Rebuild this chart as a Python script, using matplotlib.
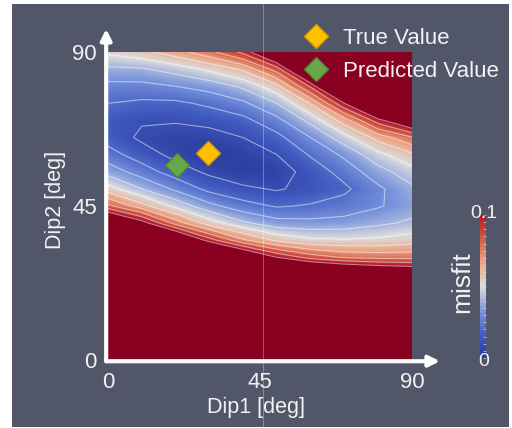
import numpy as np
import matplotlib as mpl
import matplotlib.pyplot as plt
from matplotlib.colors import LinearSegmentedColormap, Normalize
from matplotlib.lines import Line2D
from matplotlib.patches import Rectangle

mpl.use('Agg')
plt.rcParams['font.family'] = ['Liberation Sans', 'DejaVu Sans']

# grid of the misfit map (deg)
dip1 = [0, 10, 20, 30, 40, 50, 60, 70, 80, 90]
dip2 = [0, 5, 10, 15, 20, 25, 30, 35, 40, 45, 50, 55, 60, 65, 70, 75, 80, 85, 90]

# misfit values, one row per dip2 value
misfit = [
    [.3, .3, .3, .3, .3, .3, .3, .3, .3, .3],
    [.3, .3, .3, .3, .3, .3, .3, .3, .3, .3],
    [.3, .3, .3, .3, .3, .3, .3, .3, .3, .3],
    [.3, .3, .3, .3, .3, .3, .3, .3, .3, .3],
    [.3, .3, .3, .3, .3, .3, .3, .3, .3, .3],
    [.3, .3, .3, .3, .2, .16, .14, .132, .125, .12],
    [.3, .3, .2, .152, .124, .100, .086, .079, .077, .077],
    [.3, .160, .128, .095, .072, .058, .052, .051, .052, .055],
    [.131, .106, .076, .055, .042, .034, .033, .034, .038, .042],
    [.083, .064, .047, .033, .024, .019, .021, .024, .029, .035],
    [.054, .040, .028, .017, .012, .009, .013, .018, .028, .038],
    [.036, .025, .015, .008, .003, .005, .014, .024, .036, .046],
    [.024, .015, .007, .001, .004, .010, .021, .032, .047, .058],
    [.016, .008, .005, .006, .010, .017, .030, .046, .064, .079],
    [.015, .011, .011, .013, .017, .027, .043, .065, .096, .118],
    [.020, .018, .018, .022, .028, .040, .061, .100, .144, .2],
    [.027, .027, .030, .034, .042, .057, .092, .148, .2, .3],
    [.038, .039, .044, .052, .062, .085, .136, .2, .3, .3],
    [.052, .057, .066, .077, .093, .126, .2, .3, .3, .3],
]

true_value = [29.5, 60.5]
predicted_value = [20.5, 57.0]

W, H = 512, 428
bg = '#525669'
fg = '#f2f2f2'

cmap = LinearSegmentedColormap.from_list('cw', [
    (0.0, '#28399a'), (0.15, '#3f59bf'), (0.32, '#7894dc'),
    (0.5, '#dcdcdc'), (0.68, '#eba485'), (0.85, '#d25641'), (1.0, '#b0172b')])
cmap = cmap.with_extremes(over='#8a0021')

fig = plt.figure(figsize=(W / 100, H / 100), dpi=100)
fig.patch.set_facecolor('white')
fig.add_artist(Rectangle((12 / W, 1 / H), 497 / W, 423 / H, transform=fig.transFigure,
                         facecolor=bg, edgecolor='none', zorder=-10))

ax = fig.add_axes([108 / W, 1 - 360 / H, 304 / W, 308 / H])
ax.set_facecolor('none')
ax.contourf(dip1, dip2, misfit, levels=np.linspace(0, 0.1, 201), cmap=cmap, extend='max')
ax.contour(dip1, dip2, misfit, levels=np.arange(0.01, 0.1001, 0.01), colors='white',
           linewidths=0.8, alpha=0.5)

ax.plot(true_value[0], true_value[1], 'D', ms=12, mfc='#ffc000', mec='#d99a00', mew=1,
        label='True Value', clip_on=False)
ax.plot(predicted_value[0], predicted_value[1], 'D', ms=12, mfc='#68a84a', mec='#4d8a34', mew=1,
        label='Predicted Value', clip_on=False)

ax.set_xlim(0, 90)
ax.set_ylim(0, 90)
ax.set_xticks([0, 45, 90])
ax.set_yticks([0, 45, 90])
ax.tick_params(length=0, colors=fg, labelsize=16)
ax.tick_params(axis='x', pad=9)
ax.tick_params(axis='y', pad=8)
for s in ax.spines.values():
    s.set_visible(False)

# axis arrows
ax.annotate('', xy=(-0.006, 1.075), xytext=(-0.006, -0.004), xycoords='axes fraction',
            arrowprops=dict(arrowstyle='-|>', color='white', lw=3, mutation_scale=16,
                            shrinkA=0, shrinkB=0), annotation_clip=False)
ax.annotate('', xy=(1.092, -0.004), xytext=(-0.006, -0.004), xycoords='axes fraction',
            arrowprops=dict(arrowstyle='-|>', color='white', lw=3, mutation_scale=16,
                            shrinkA=0, shrinkB=0), annotation_clip=False)

fig.text(256 / W, 1 - 408 / H, 'Dip1 [deg]', color=fg, fontsize=15.5, ha='center', va='center')
fig.text(55 / W, 1 - 200 / H, 'Dip2 [deg]', color=fg, fontsize=15.5, ha='center', va='center',
         rotation=90)

leg = ax.legend(loc='upper left', bbox_to_anchor=(305 / W, 1 - 28 / H),
                bbox_transform=fig.transFigure, frameon=False, fontsize=16,
                labelcolor=fg, handlelength=1.0, handletextpad=0.7, labelspacing=0.55,
                borderpad=0, borderaxespad=0)

# colour bar
cax = fig.add_axes([480 / W, 1 - 358 / H, 6 / W, 143 / H])
sm = plt.cm.ScalarMappable(norm=Normalize(0, 0.1), cmap=cmap)
cb = fig.colorbar(sm, cax=cax)
cb.outline.set_visible(False)
cb.set_ticks(np.linspace(0, 0.1, 21))
cax.tick_params(length=2, width=0.5, colors='#d0d0d0', labelright=False, direction='in')
fig.text(484 / W, 1 - 213 / H, '0.1', color=fg, fontsize=14, ha='center', va='center')
fig.text(484 / W, 1 - 362 / H, '0', color=fg, fontsize=14, ha='center', va='center')
fig.text(462 / W, 1 - 282 / H, 'misfit', color=fg, fontsize=19, ha='center', va='center',
         rotation=90)

# faint seam line in the picture
fig.add_artist(Line2D([263 / W, 263 / W], [1 / H, 1 - 4 / H], transform=fig.transFigure,
                      color='white', lw=0.6, alpha=0.35))

fig.savefig('out.png', dpi=100, facecolor=fig.get_facecolor())
